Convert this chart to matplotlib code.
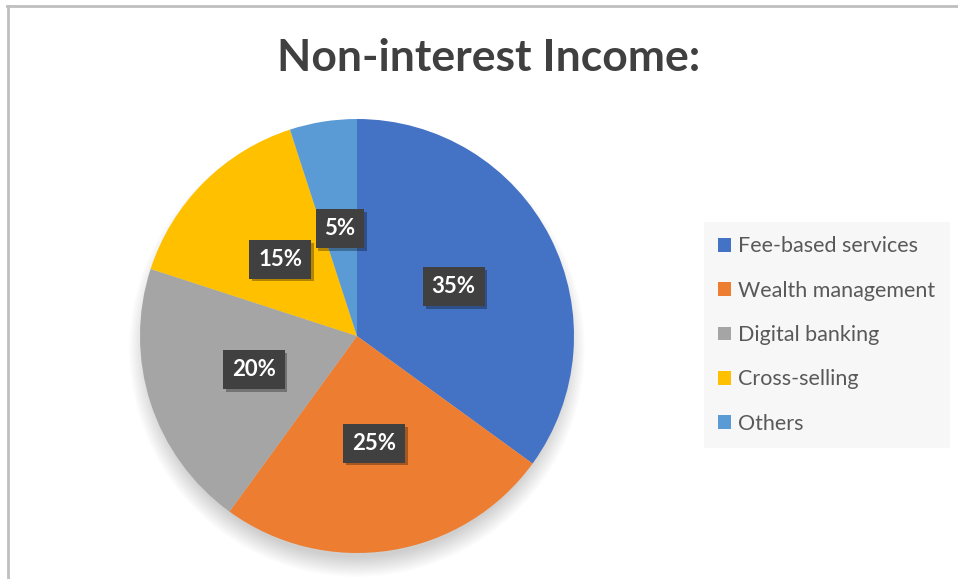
import matplotlib

matplotlib.use("Agg")

import matplotlib.pyplot as plt
import matplotlib.patheffects as pe
from matplotlib.lines import Line2D
from matplotlib.patches import Circle

categories = ["Fee-based services", "Wealth management", "Digital banking",
              "Cross-selling", "Others"]
shares = [35, 25, 20, 15, 5]
colors = ["#4472C4", "#ED7D31", "#A5A5A5", "#FFC000", "#5B9BD5"]
title = "Non-interest Income:"

W, H = 958, 579
plt.rcParams["font.family"] = ["Lato", "DejaVu Sans"]

fig = plt.figure(figsize=(W / 100, H / 100), dpi=100)
fig.patch.set_facecolor("white")

# pie placed in pixel terms: centre (357, 336), radius 217
cx, cy, r = 357, 336, 217
span = 1.25
ax = fig.add_axes([(cx - r * span) / W, (H - cy - r * span) / H,
                   2 * r * span / W, 2 * r * span / H])
ax.axis("off")

# soft drop shadow under the pie, mostly below it
for i in range(16):
    ax.add_patch(Circle((0.0, -0.06), 0.96 + i * 0.006, color="black",
                        alpha=0.012, lw=0, zorder=0))

wedges, texts, autotexts = ax.pie(
    shares, colors=colors, startangle=90, counterclock=False,
    autopct="%d%%", pctdistance=0.5, radius=1.0,
    wedgeprops=dict(linewidth=0),
    textprops=dict(color="white", fontsize=16, fontweight="bold"),
)
for w in wedges:
    w.set_zorder(2)
ax.set_xlim(-span, span)
ax.set_ylim(-span, span)

for t in autotexts:
    t.set_zorder(5)
    t.set_bbox(dict(boxstyle="square,pad=0.4", facecolor="#404040",
                    edgecolor="none"))
    t.get_bbox_patch().set_path_effects([
        pe.SimplePatchShadow(offset=(2, -2), shadow_rgbFace="black", alpha=0.3),
        pe.Normal(),
    ])

fig.text(489 / W, 1 - 58 / H, title, ha="center", va="center",
         fontsize=32, fontweight="bold", color="#404040")

leg = fig.legend(wedges, categories, loc="center left",
                 bbox_to_anchor=(704 / W, 1 - 335 / H),
                 frameon=True, fontsize=15.5, labelcolor="#595959",
                 handlelength=0.6, handleheight=0.6, handletextpad=0.35,
                 labelspacing=1.13, borderpad=0.65, borderaxespad=0)
frame = leg.get_frame()
frame.set_facecolor("#f7f7f7")
frame.set_edgecolor("none")
frame.set_alpha(1)
frame.set_boxstyle("square", pad=0)

# chart border (top and left visible)
fig.add_artist(Line2D([7 / W, 1], [1 - 6 / H, 1 - 6 / H], color="#bfbfbf", lw=2))
fig.add_artist(Line2D([8 / W, 8 / W], [0, 1 - 6 / H], color="#bfbfbf", lw=2))

fig.savefig("out.png", dpi=100, facecolor="white")
